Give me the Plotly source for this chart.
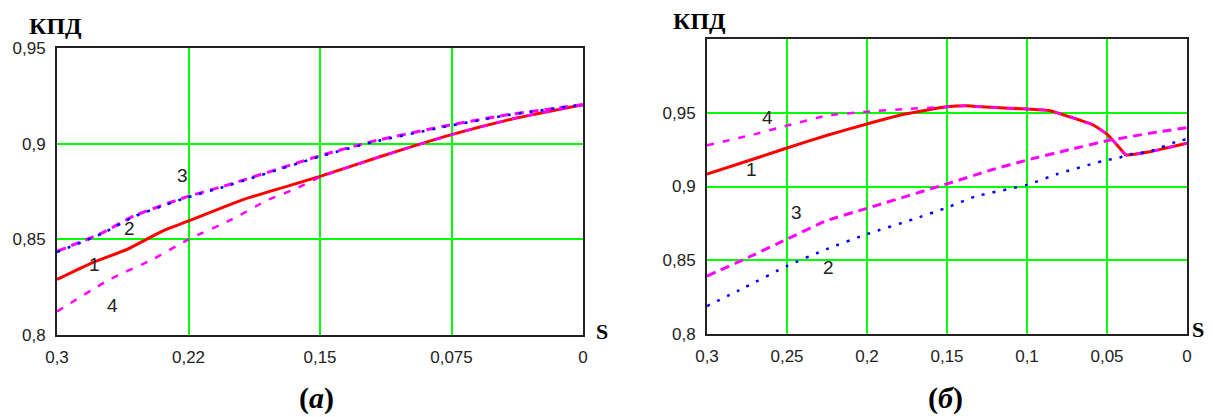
import plotly.graph_objects as go

# ---------- panel (a) ----------
s_a1 = [0.3, 0.28, 0.26, 0.249, 0.239, 0.225, 0.193, 0.15, 0.115, 0.075, 0.038, 0]
eta_a1 = [0.829, 0.8377, 0.8447, 0.85, 0.8547, 0.8596, 0.871, 0.8829, 0.8934, 0.9047, 0.9134, 0.9204]

s_a2 = [0.3, 0.274, 0.256, 0.228, 0.202, 0.15, 0.12, 0.075, 0.0425, 0]
eta_a2 = [0.8433, 0.8531, 0.8619, 0.8712, 0.8782, 0.8933, 0.9008, 0.9095, 0.915, 0.9204]

s_a3 = [0.3, 0.274, 0.256, 0.228, 0.202, 0.15, 0.12, 0.075, 0.0425, 0]
eta_a3 = [0.8437, 0.8535, 0.8623, 0.8716, 0.8786, 0.8937, 0.9012, 0.9099, 0.9152, 0.9204]

s_a4 = [0.3, 0.27, 0.2455, 0.225, 0.2, 0.18, 0.165, 0.15, 0.115, 0.075, 0.038, 0]
eta_a4 = [0.8123, 0.829, 0.8395, 0.85, 0.8605, 0.8705, 0.876, 0.8825, 0.8934, 0.9047, 0.9134, 0.9204]

ticks_a_x = [0.3, 0.225, 0.15, 0.075, 0]
ticks_a_xtext = ["0,3", "0,22", "0,15", "0,075", "0"]
ticks_a_y = [0.8, 0.85, 0.9, 0.95]
ticks_a_ytext = ["0,8", "0,85", "0,9", "0,95"]
labels_a = [("1", 0.2789, 0.8366), ("2", 0.2584, 0.8559), ("3", 0.2287, 0.8836), ("4", 0.2686, 0.8152)]

# ---------- panel (б) ----------
s_b1 = [0.3, 0.2718, 0.25, 0.2253, 0.2, 0.1763, 0.15, 0.137, 0.1286, 0.1, 0.0856, 0.0735,
        0.0586, 0.0494, 0.0419, 0.0381, 0.0231, 0.0122, 0]
eta_b1 = [0.9085, 0.9183, 0.9261, 0.9346, 0.9424, 0.9491, 0.954, 0.9547, 0.954, 0.9525, 0.9514, 0.9473,
          0.9417, 0.9349, 0.9259, 0.9214, 0.9236, 0.9263, 0.9293]

s_b2 = [0.3, 0.2767, 0.25, 0.2253, 0.2, 0.1714, 0.15, 0.1322, 0.1, 0.0815, 0.0502, 0.043, 0.0381, 0.0231, 0.0055, 0]
eta_b2 = [0.8189, 0.8314, 0.8461, 0.8575, 0.8677, 0.8777, 0.8857, 0.8933, 0.9011, 0.9083, 0.918, 0.9191,
          0.9214, 0.9238, 0.9308, 0.932]

s_b3 = [0.3, 0.2767, 0.25, 0.2253, 0.2, 0.15, 0.1224, 0.1, 0.0735, 0.05, 0.0356, 0.0169, 0]
eta_b3 = [0.8393, 0.8507, 0.8643, 0.8768, 0.8852, 0.9018, 0.9112, 0.9179, 0.925, 0.931, 0.9338, 0.9372, 0.9399]

s_b4 = [0.3, 0.2694, 0.25, 0.2253, 0.2, 0.1763, 0.15, 0.137, 0.1286, 0.1, 0.0856, 0.0735,
        0.0586, 0.0494, 0.0419, 0.0381, 0.0231, 0.0122, 0]
eta_b4 = [0.9279, 0.9357, 0.9413, 0.948, 0.9507, 0.9525, 0.954, 0.9547, 0.954, 0.9525, 0.9514, 0.9473,
          0.9417, 0.9349, 0.9259, 0.9214, 0.9236, 0.9263, 0.9293]

ticks_b_x = [0.3, 0.25, 0.2, 0.15, 0.1, 0.05, 0]
ticks_b_xtext = ["0,3", "0,25", "0,2", "0,15", "0,1", "0,05", "0"]
ticks_b_y = [0.8, 0.85, 0.9, 0.95]
ticks_b_ytext = ["0,8", "0,85", "0,9", "0,95"]
labels_b = [("4", 0.2625, 0.9471), ("1", 0.2725, 0.9112), ("3", 0.2438, 0.8827), ("2", 0.2238, 0.8454)]

# page body has an 8px default margin: compensate
OFF = 8
W, H = 1213 - OFF, 417 - OFF
def px(x):
    return (x - OFF) / W
def py(y):
    return 1 - (y - OFF) / H

RED = "#FF0000"
MAG = "#FF00FF"
BLUE = "#0000FF"
GREEN = "#00FF00"

fig = go.Figure()

def add_panel(xa, ya, s1, e1, s2, e2, s3, e3, s4, e4):
    fig.add_trace(go.Scatter(x=s1, y=e1, mode="lines", xaxis=xa, yaxis=ya,
                             line=dict(color=RED, width=3, shape="spline", smoothing=0.5)))
    fig.add_trace(go.Scatter(x=s4, y=e4, mode="lines", xaxis=xa, yaxis=ya,
                             line=dict(color=MAG, width=2.5, dash="7px,9px", shape="spline", smoothing=0.5)))
    fig.add_trace(go.Scatter(x=s3, y=e3, mode="lines", xaxis=xa, yaxis=ya,
                             line=dict(color=MAG, width=3, dash="9px,6px", shape="spline", smoothing=0.5)))
    fig.add_trace(go.Scatter(x=s2, y=e2, mode="lines", xaxis=xa, yaxis=ya,
                             line=dict(color=BLUE, width=2.5, dash="3px,8px", shape="spline", smoothing=0.5)))

add_panel("x", "y", s_a1, eta_a1, s_a2, eta_a2, s_a3, eta_a3, s_a4, eta_a4)
add_panel("x2", "y2", s_b1, eta_b1, s_b2, eta_b2, s_b3, eta_b3, s_b4, eta_b4)

tickfont = dict(family="Liberation Sans, Arial, sans-serif", size=17, color="#222222")
common_axis = dict(showline=True, mirror=True, linecolor="#222222", linewidth=2,
                   showgrid=True, gridcolor=GREEN, gridwidth=1.5, zeroline=False,
                   ticks="", tickfont=tickfont, ticklabelstandoff=6, automargin=False)

fig.update_layout(
    template="none",
    width=W, height=H,
    margin=dict(l=0, r=0, t=0, b=0, pad=0, autoexpand=False),
    paper_bgcolor="white", plot_bgcolor="white",
    showlegend=False,
    xaxis=dict(domain=[px(57), px(583)], range=[0.3, 0], tickmode="array",
               tickvals=ticks_a_x, ticktext=ticks_a_xtext, anchor="y", **common_axis),
    yaxis=dict(domain=[py(335), py(48)], range=[0.8, 0.95], tickmode="array",
               tickvals=ticks_a_y, ticktext=ticks_a_ytext, anchor="x", **common_axis),
    xaxis2=dict(domain=[px(707), px(1187)], range=[0.3, 0], tickmode="array",
                tickvals=ticks_b_x, ticktext=ticks_b_xtext, anchor="y2", **common_axis),
    yaxis2=dict(domain=[py(334), py(39)], range=[0.8, 1.0], tickmode="array",
                tickvals=ticks_b_y, ticktext=ticks_b_ytext, anchor="x2", **common_axis),
)

ann = []
lblfont = dict(family="Liberation Sans, Arial, sans-serif", size=19, color="#222222")
for t, sx, ey in labels_a:
    ann.append(dict(text=t, x=sx, y=ey, xref="x", yref="y", showarrow=False, font=lblfont))
for t, sx, ey in labels_b:
    ann.append(dict(text=t, x=sx, y=ey, xref="x2", yref="y2", showarrow=False, font=lblfont))

def paper_text(text, x, y, font):
    ann.append(dict(text=text, x=px(x), y=py(y), xref="paper", yref="paper",
                    xanchor="center", yanchor="middle", showarrow=False, font=font))

serif_b = dict(family="Liberation Serif, Times New Roman, serif", size=24, color="black")
paper_text("<b>КПД</b>", 55, 26, serif_b)
paper_text("<b>КПД</b>", 699, 21, serif_b)
s_font = dict(family="Liberation Serif, Times New Roman, serif", size=22, color="black")
paper_text("<b>S</b>", 602, 331, s_font)
paper_text("<b>S</b>", 1198, 329, s_font)
cap_font = dict(family="Liberation Serif, Times New Roman, serif", size=30, color="black")
paper_text("<b>(<i>a</i>)</b>", 316, 398, cap_font)
paper_text("<b>(<i>б</i>)</b>", 945, 398, cap_font)
fig.update_layout(annotations=ann)

fig.write_html("out.html")
